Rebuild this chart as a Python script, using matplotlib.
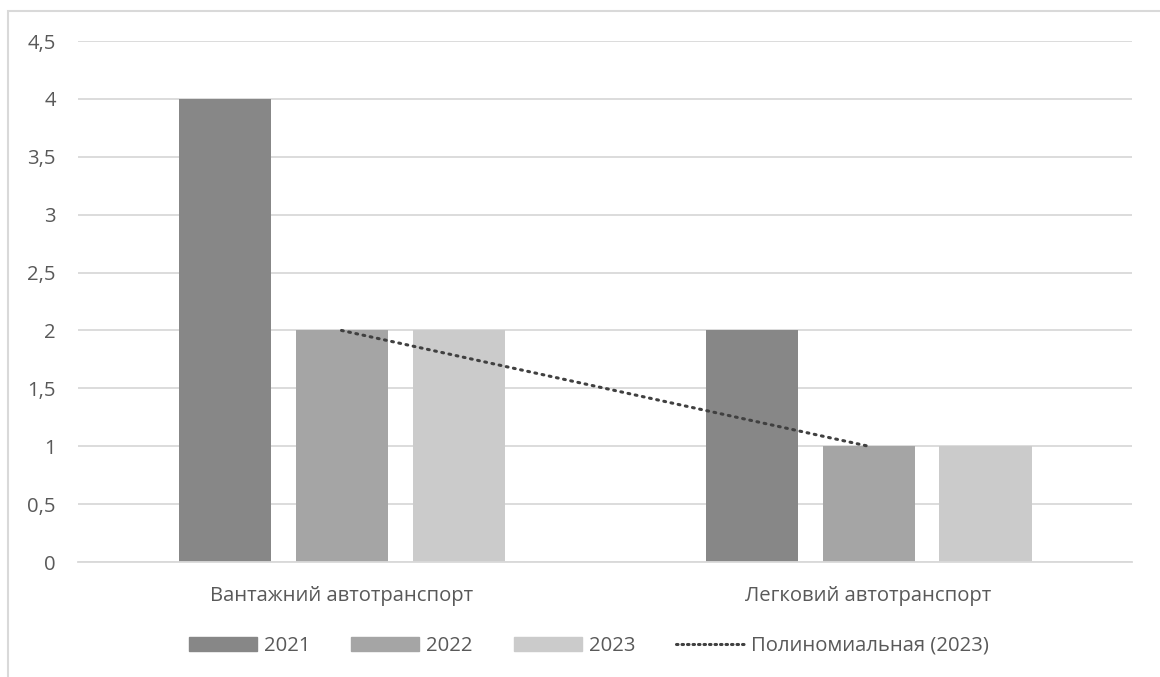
import numpy as np
import matplotlib
matplotlib.use("Agg")
import matplotlib.pyplot as plt
from matplotlib.patches import Rectangle
from matplotlib.lines import Line2D

categories = ["Вантажний автотранспорт", "Легковий автотранспорт"]
series_names = ["2021", "2022", "2023"]
values_2021 = [4, 2]
values_2022 = [2, 1]
values_2023 = [2, 1]
yticks = [0, 0.5, 1, 1.5, 2, 2.5, 3, 3.5, 4, 4.5]
ytick_labels = ["0", "0,5", "1", "1,5", "2", "2,5", "3", "3,5", "4", "4,5"]
trend_label = "Полиномиальная (2023)"

colors = ["#878787", "#a5a5a5", "#cbcbcb"]
text_color = "#595959"

plt.rcParams["font.family"] = ["Open Sans", "DejaVu Sans"]
FS = 14.6
U = FS * 100 / 72  # px per font-size unit

W, H = 1160, 677
fig = plt.figure(figsize=(W / 100, H / 100), dpi=100)
fig.patch.set_facecolor("white")

# chart border
fig.patches.append(Rectangle((8 / W, -0.01), 1.2, 1 - 11 / H + 0.01, transform=fig.transFigure,
                             fill=False, edgecolor="#d9d9d9", linewidth=1.5))

left, right = 78, 1132
top, bottom = 41, 562
ax = fig.add_axes([left / W, 1 - bottom / H, (right - left) / W, (bottom - top) / H])
ax.set_xlim(-0.5, 1.5)
ax.set_ylim(0, 4.5)

bw = 92 / 527
step = 117 / 527
x = np.arange(len(categories))
for i, (vals, c, name) in enumerate(zip([values_2021, values_2022, values_2023], colors, series_names)):
    ax.bar(x + (i - 1) * step, vals, width=bw, color=c, zorder=2, label=name)

# trendline (2 points -> linear)
coef = np.polyfit(x, values_2023, 1)
tx = np.linspace(x[0], x[-1], 50)
ax.plot(tx, np.polyval(coef, tx), linestyle=(0, (0.6, 1.8)), color="#404040", linewidth=2.2,
        dash_capstyle="round", zorder=3)

ax.set_yticks(yticks)
ax.set_yticklabels(ytick_labels)
ax.grid(axis="y", color="#d9d9d9", linewidth=1.3, zorder=0)
ax.set_axisbelow(True)
for s in ["top", "right", "left"]:
    ax.spines[s].set_visible(False)
ax.spines["bottom"].set_color("#d9d9d9")
ax.spines["bottom"].set_linewidth(1.3)
ax.tick_params(axis="both", length=0, labelsize=FS, labelcolor=text_color)
ax.tick_params(axis="y", pad=16)
ax.tick_params(axis="x", pad=17)
ax.set_xticks(x)
ax.set_xticklabels(categories)

handles = [Rectangle((0, 0), 1, 1, color=c) for c in colors]
handles.append(Line2D([0], [0], linestyle=(0, (0.5, 1.3)), color="#404040", linewidth=2.2,
                      dash_capstyle="round"))
labels = series_names + [trend_label]
fig.legend(handles, labels, loc="center", bbox_to_anchor=(589 / W, 1 - 646 / H), ncol=4,
           frameon=False, fontsize=FS, labelcolor=text_color, handlelength=68 / U,
           handleheight=14 / U, columnspacing=41 / U, handletextpad=7 / U)

fig.savefig("out.png", dpi=100, facecolor="white")
